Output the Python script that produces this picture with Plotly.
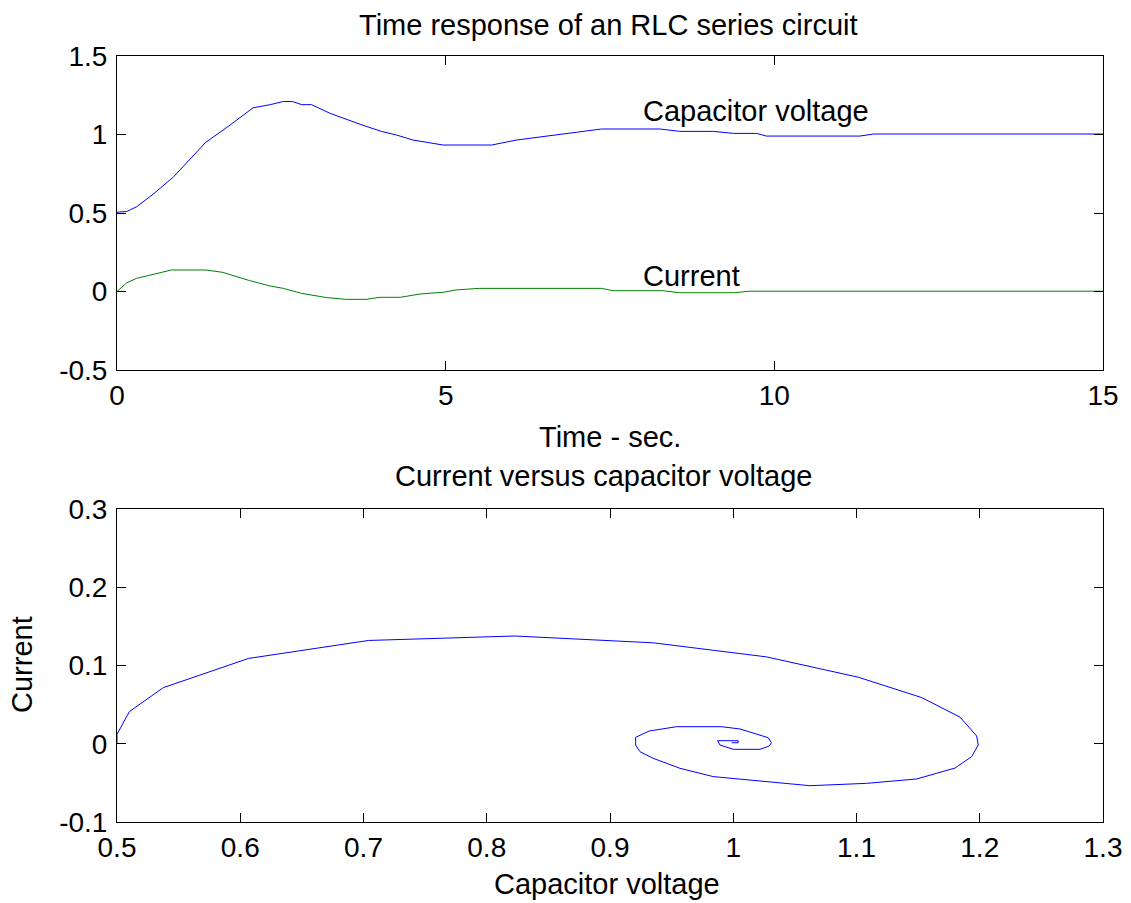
import plotly.graph_objects as go

# ---- data ----
t_vc = [0, 0.15, 0.30, 0.55, 0.86, 1.08, 1.35, 1.72, 2.07, 2.33, 2.53, 2.67, 2.81, 2.96,
        3.24, 3.70, 4.02, 4.25, 4.50, 4.96, 5.70, 6.08, 6.59, 7.37, 8.26, 8.56, 9.07,
        9.38, 9.73, 9.88, 11.30, 11.51, 15.0]
vc = [0.505, 0.51, 0.54, 0.62, 0.73, 0.83, 0.95, 1.06, 1.17, 1.19, 1.21, 1.21, 1.19, 1.19,
      1.135, 1.065, 1.02, 0.997, 0.965, 0.933, 0.933, 0.965, 0.993, 1.035, 1.035, 1.02, 1.02,
      1.007, 1.007, 0.99, 0.99, 1.003, 1.003]

t_i = [0, 0.15, 0.30, 0.55, 0.83, 1.35, 1.61, 2.02, 2.33, 2.53, 2.81, 3.19, 3.49, 3.79,
       4.0, 4.31, 4.61, 4.96, 5.16, 5.51, 7.37, 7.55, 8.31, 8.56, 9.38, 9.63, 15.0]
cur = [0, 0.056, 0.084, 0.11, 0.137, 0.137, 0.122, 0.069, 0.035, 0.02, -0.012, -0.039, -0.05, -0.05,
       -0.037, -0.037, -0.016, -0.005, 0.01, 0.02, 0.02, 0.005, 0.005, -0.008, -0.008, 0.002, 0.002]

phase_v = [0.5, 0.5, 0.510, 0.5376, 0.6066, 0.704, 0.8228, 0.935, 1.027, 1.1015, 1.1529, 1.184,
           1.1975, 1.1988, 1.1934, 1.18, 1.1489, 1.1083, 1.0623, 0.9838, 0.9568, 0.935, 0.9243,
           0.9208, 0.9208, 0.9318, 0.954, 0.9905, 1.0054, 1.0284, 1.031, 1.0292, 1.0217, 1.0,
           0.9892, 0.9873, 1.004, 1.004, 0.9987]
phase_i = [0, 0.012, 0.041, 0.0717, 0.109, 0.132, 0.1377, 0.129, 0.111, 0.085, 0.059, 0.034,
           0.0099, -0.0016, -0.0165, -0.031, -0.045, -0.0506, -0.0536, -0.042, -0.0314, -0.0186,
           -0.0101, -0.0016, 0.0082, 0.0163, 0.0218, 0.0218, 0.0189, 0.0077, 0.0013, -0.0029,
           -0.0071, -0.0071, -0.0016, 0.0039, 0.0039, 0.0013, 0.0013]

x1_ticks = [0, 5, 10, 15]
x1_labels = ["0", "5", "10", "15"]
y1_ticks = [-0.5, 0, 0.5, 1, 1.5]
y1_labels = ["-0.5", "0", "0.5", "1", "1.5"]
x2_ticks = [0.5, 0.6, 0.7, 0.8, 0.9, 1.0, 1.1, 1.2, 1.3]
x2_labels = ["0.5", "0.6", "0.7", "0.8", "0.9", "1", "1.1", "1.2", "1.3"]
y2_ticks = [-0.1, 0, 0.1, 0.2, 0.3]
y2_labels = ["-0.1", "0", "0.1", "0.2", "0.3"]

W, H = 1131, 903
FONT = "Liberation Sans, Arial, sans-serif"
FS_TICK = 28
FS_TEXT = 29


def px(x):
    return x / W


def py(y):
    return 1 - y / H


fig = go.Figure()
fig.add_trace(go.Scatter(x=t_vc, y=vc, mode="lines", line=dict(color="#0000FF", width=1),
                         xaxis="x", yaxis="y", showlegend=False))
fig.add_trace(go.Scatter(x=t_i, y=cur, mode="lines", line=dict(color="#008000", width=1),
                         xaxis="x", yaxis="y", showlegend=False))
fig.add_trace(go.Scatter(x=phase_v, y=phase_i, mode="lines", line=dict(color="#0000FF", width=1),
                         xaxis="x2", yaxis="y2", showlegend=False))

axis_common = dict(showline=True, linecolor="black", linewidth=1, mirror="allticks",
                   ticks="inside", ticklen=9, tickwidth=1, tickcolor="black",
                   showgrid=False, zeroline=False, automargin=False,
                   tickfont=dict(family=FONT, size=FS_TICK, color="black"))

fig.update_layout(
    width=W, height=H,
    margin=dict(l=0, r=0, t=0, b=0, pad=0),
    paper_bgcolor="white", plot_bgcolor="white",
    font=dict(family=FONT, size=FS_TICK, color="black"),
    xaxis=dict(domain=[px(117), px(1103)], range=[0, 15], tickvals=x1_ticks, ticktext=x1_labels,
               anchor="y", **axis_common),
    yaxis=dict(domain=[py(370), py(56)], range=[-0.5, 1.5], tickvals=y1_ticks, ticktext=y1_labels,
               anchor="x", ticklabelstandoff=3, **axis_common),
    xaxis2=dict(domain=[px(117), px(1103)], range=[0.5, 1.3], tickvals=x2_ticks, ticktext=x2_labels,
                anchor="y2", **axis_common),
    yaxis2=dict(domain=[py(822), py(509)], range=[-0.1, 0.3], tickvals=y2_ticks, ticktext=y2_labels,
                anchor="x2", ticklabelstandoff=3, **axis_common),
    showlegend=False,
)

annots = [
    dict(text="Time response of an RLC series circuit", x=px(608), y=py(25), xref="paper", yref="paper",
         xanchor="center", yanchor="middle", showarrow=False),
    dict(text="Time - sec.", x=px(610), y=py(437), xref="paper", yref="paper",
         xanchor="center", yanchor="middle", showarrow=False),
    dict(text="Current versus capacitor voltage", x=px(603), y=py(476), xref="paper", yref="paper",
         xanchor="center", yanchor="middle", showarrow=False),
    dict(text="Capacitor voltage", x=px(607), y=py(884), xref="paper", yref="paper",
         xanchor="center", yanchor="middle", showarrow=False),
    dict(text="Current", x=px(22), y=py(665), xref="paper", yref="paper", textangle=-90,
         xanchor="center", yanchor="middle", showarrow=False),
    dict(text="Capacitor voltage", x=8, y=1.15, xref="x", yref="y",
         xanchor="left", yanchor="middle", showarrow=False, xshift=-2),
    dict(text="Current", x=8, y=0.1, xref="x", yref="y",
         xanchor="left", yanchor="middle", showarrow=False, xshift=-2),
]
fig.update_layout(annotations=annots)
fig.update_annotations(font=dict(family=FONT, size=FS_TEXT, color="black"))

fig.write_html("out.html")
